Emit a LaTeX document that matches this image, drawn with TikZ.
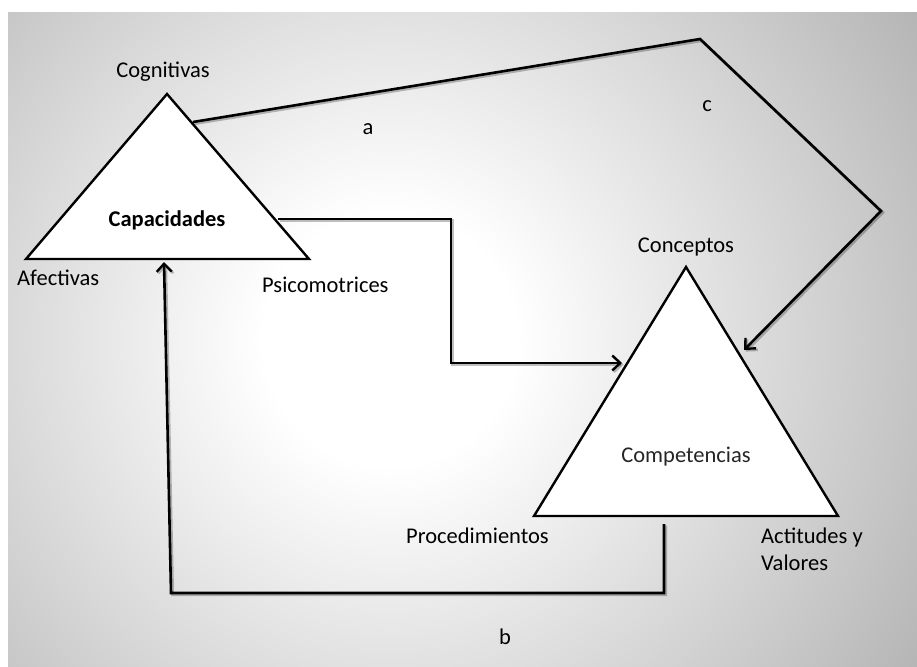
\documentclass[tikz,border=0pt]{standalone}
\usepackage{fontspec}
\setmainfont{Carlito}
\usetikzlibrary{arrows.meta}
% soft grey slide background, brightest towards the middle
\pgfdeclareradialshading{slidebg}{\pgfpoint{0bp}{0bp}}{%
  color(0bp)=(white); color(5bp)=(white);
  color(20bp)=(white!78!black); color(28bp)=(white!66!black);
  color(40bp)=(white!58!black); color(50bp)=(white!51!black)}
\begin{document}
\begin{tikzpicture}[x=1pt,y=-1pt,
  txt/.style={font=\fontsize{22.5}{27}\selectfont, inner sep=0pt, text=black},
  tri/.style={draw=black, fill=white, line width=2.4pt, line join=miter},
  link/.style={draw=black, line width=2.6pt, line join=miter,
    preaction={draw=black, opacity=0.25, line width=3pt,
      transform canvas={shift={(1.6pt,-1.6pt)}}}},
  tip/.style={-{Straight Barb[length=8pt,width=15pt,line width=2.4pt]}}]

  % page and shaded panel
  \useasboundingbox (0,0) rectangle (917,666);
  \fill[white] (0,0) rectangle (917,666);
  \begin{scope}
    \clip (8,13) rectangle (917,666);
    \shade[shading=slidebg] (390,340) circle (630);
  \end{scope}

  % triangle corners
  \coordinate (capTop) at (167,94);
  \coordinate (capLeft) at (26,259);
  \coordinate (capRight) at (309,259);
  \coordinate (compTop) at (686,267);
  \coordinate (compLeft) at (534,516);
  \coordinate (compRight) at (838,516);

  % the two triangles
  \draw[tri] (capTop) -- (capLeft) -- (capRight) -- cycle;
  \draw[tri] (compTop) -- (compLeft) -- (compRight) -- cycle;

  % connector end points
  \coordinate (capOut) at (278,219);
  \coordinate (compIn) at (622,363);
  \coordinate (capEdge) at (193,122);
  \coordinate (peak) at (700,39);
  \coordinate (corner) at (881,211);
  \coordinate (compEdge) at (744,350);
  \coordinate (compBase) at (664,524);
  \coordinate (low) at (664,593);
  \coordinate (lowLeft) at (171,593);
  \coordinate (capBase) at (164,262);

  % connectors
  \draw[link,tip] (capOut) -- (451,219) |- (compIn);
  \draw[link,tip] (capEdge) -- (peak) -- (corner) -- (compEdge);
  \draw[link,tip] (compBase) -- (low) -- (lowLeft) -- (capBase);

  % labels
  \node[txt, anchor=base] (cog) at (163,78) {Cognitivas};
  \node[txt, anchor=base, font=\fontsize{22.5}{27}\selectfont\bfseries] (capac) at (167,226) {Capacidades};
  \node[txt, anchor=base west] (afec) at (17,285) {Afectivas};
  \node[txt, anchor=base west] (psico) at (262,292) {Psicomotrices};
  \node[txt, anchor=base] (la) at (368,134) {a};
  \node[txt, anchor=base] (lc) at (707,112) {c};
  \node[txt, anchor=base] (conc) at (686,252) {Conceptos};
  \node[txt, anchor=base, text=black!85] (compet) at (686,462) {Competencias};
  \node[txt, anchor=base west] (proc) at (406,543) {Procedimientos};
  \node[txt, anchor=base west, align=left] (acti) at (761,570) {Actitudes y\\Valores};
  \node[txt, anchor=base] (lb) at (505,644) {b};
\end{tikzpicture}
\end{document}
